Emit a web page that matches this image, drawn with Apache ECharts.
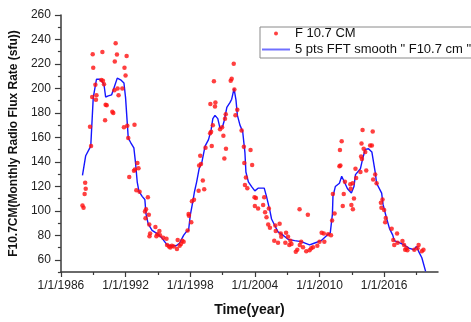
<!DOCTYPE html>
<html>
<head>
<meta charset="utf-8">
<script src="https://cdn.jsdelivr.net/npm/echarts@6/dist/echarts.min.js"></script>
<style>
  html, body { margin: 0; padding: 0; background: #fff; }
  #chart { width: 471px; height: 322px; }
</style>
</head>
<body>
<div id="chart"></div>
<script>
// Monthly F10.7 cm solar radio flux samples (decimal year, sfu)
const fluxYears = [
  1988.0, 1988.1, 1988.2, 1988.25, 1988.3, 1988.7, 1988.8, 1988.9, 1988.95, 1989.0,
  1989.2, 1989.25, 1989.3, 1989.75, 1989.85, 1989.9, 1990.0, 1990.1, 1990.15, 1990.25,
  1990.77, 1990.86, 1990.96, 1991.0, 1991.08, 1991.2, 1991.26, 1991.35, 1991.7, 1991.85,
  1991.9, 1992.0, 1992.1, 1992.16, 1992.25, 1992.34, 1992.78, 1992.83, 1992.87, 1993.0,
  1993.1, 1993.2, 1993.3, 1993.8, 1993.85, 1993.9, 1994.07, 1994.16, 1994.2, 1994.22,
  1994.28, 1994.77, 1994.86, 1994.95, 1995.14, 1995.2, 1995.5, 1995.8, 1995.85, 1996.03,
  1996.15, 1996.3, 1996.47, 1996.77, 1996.84, 1997.02, 1997.14, 1997.26, 1997.39, 1997.76,
  1997.85, 1997.88, 1998.1, 1998.16, 1998.35, 1998.78, 1998.83, 1998.93, 1999.0, 1999.17,
  1999.3, 1999.42, 1999.85, 1999.87, 1999.94, 2000.0, 2000.1, 2000.2, 2000.3, 2000.34,
  2000.77, 2000.96, 2001.08, 2001.17, 2001.23, 2001.3, 2001.32, 2001.76, 2001.85, 2002.04,
  2002.1, 2002.2, 2002.37, 2002.77, 2002.98, 2003.02, 2003.08, 2003.17, 2003.3, 2003.6,
  2003.75, 2003.97, 2004.0, 2004.1, 2004.3, 2004.77, 2004.87, 2004.95, 2005.08, 2005.24,
  2005.3, 2005.4, 2005.8, 2005.9, 2005.94, 2006.15, 2006.3, 2006.4, 2006.45, 2006.83,
  2006.9, 2007.08, 2007.2, 2007.3, 2007.4, 2007.8, 2007.94, 2008.15, 2008.17, 2008.3,
  2008.47, 2008.77, 2008.92, 2009.08, 2009.23, 2009.4, 2009.8, 2010.0, 2010.2, 2010.4,
  2010.45, 2010.8, 2011.07, 2011.17, 2011.24, 2011.4, 2011.85, 2011.9, 2011.94, 2012.06,
  2012.16, 2012.25, 2012.36, 2012.86, 2012.9, 2012.96, 2013.08, 2013.1, 2013.2, 2013.34,
  2013.4, 2013.8, 2013.86, 2013.9, 2013.94, 2014.0, 2014.1, 2014.25, 2014.34, 2014.7,
  2014.86, 2014.94, 2014.98, 2015.17, 2015.3, 2015.7, 2015.75, 2015.85, 2016.0, 2016.1,
  2016.15, 2016.7, 2016.85, 2016.94, 2017.2, 2017.25, 2017.7, 2017.85, 2017.95, 2018.07,
  2018.16, 2018.8, 2019.1, 2019.2, 2019.5, 2019.65
];
const fluxValues = [
  104.4, 102.6, 113.7, 123.0, 118.0, 168.7, 152.9, 193.0, 228.0, 216.9,
  203.0, 190.7, 194.4, 206.8, 229.8, 206.3, 203.4, 174.0, 186.7, 186.2,
  180.9, 180.0, 198.6, 222.0, 237.0, 227.7, 200.0, 194.4, 200.0, 168.2,
  216.9, 210.5, 226.4, 169.5, 159.4, 127.7, 132.8, 170.3, 133.8, 116.9,
  139.1, 134.8, 115.6, 99.4, 93.9, 101.3, 111.0, 96.8, 88.8, 79.3,
  81.4, 86.7, 79.3, 80.9, 83.6, 80.0, 78.0, 77.2, 72.1, 70.8,
  70.0, 71.4, 70.8, 68.7, 76.1, 71.4, 72.9, 75.6, 74.8, 84.0,
  97.3, 96.0, 90.7, 107.9, 109.0, 116.3, 137.0, 144.9, 138.3, 124.8,
  117.7, 151.5, 163.4, 187.2, 164.5, 152.9, 170.0, 205.8, 185.2, 188.6,
  166.6, 168.2, 161.3, 142.8, 175.3, 178.8, 150.7, 206.3, 207.9, 220.1,
  199.1, 178.0, 182.5, 165.6, 152.3, 139.1, 121.0, 127.2, 118.5, 149.7,
  137.5, 111.0, 103.9, 110.5, 101.8, 104.7, 111.0, 98.9, 94.7, 88.8,
  101.8, 86.2, 75.6, 88.0, 83.6, 74.0, 89.4, 81.4, 78.8, 74.0,
  82.0, 78.8, 72.1, 75.6, 72.9, 66.5, 68.2, 101.3, 72.1, 74.8,
  70.3, 66.9, 96.7, 67.7, 69.5, 70.3, 71.4, 74.8, 82.0, 81.4,
  74.8, 80.9, 80.1, 92.0, 113.7, 97.8, 136.4, 149.7, 137.0, 156.8,
  103.9, 113.7, 123.7, 121.7, 118.0, 104.7, 122.5, 101.3, 110.0, 134.4,
  126.9, 131.7, 144.4, 155.0, 142.3, 166.1, 150.7, 148.1, 133.0, 153.4,
  153.4, 164.8, 125.6, 129.6, 122.5, 106.6, 102.6, 109.2, 100.7, 90.7,
  94.1, 85.4, 76.1, 72.1, 81.4, 74.0, 75.3, 72.1, 68.2, 69.5,
  67.7, 68.2, 69.5, 72.1, 66.9, 68.2
];

// 5-point FFT smoothed curve
const smoothYears = [
  1988.0, 1988.3, 1988.77, 1989.0, 1989.3, 1989.55, 1989.8, 1990.0, 1990.15, 1990.4,
  1990.7, 1990.93, 1991.23, 1991.54, 1991.85, 1992.0, 1992.25, 1992.46, 1992.77, 1992.92,
  1993.08, 1993.24, 1993.54, 1993.79, 1993.9, 1994.1, 1994.46, 1994.93, 1995.4, 1995.85,
  1996.3, 1996.7, 1997.0, 1997.4, 1997.63, 1997.85, 1998.0, 1998.25, 1998.4, 1998.6,
  1998.83, 1999.08, 1999.38, 1999.7, 1999.94, 2000.1, 2000.3, 2000.56, 2000.77, 2001.0,
  2001.17, 2001.4, 2001.7, 2001.85, 2002.07, 2002.25, 2002.38, 2002.62, 2002.87, 2003.08,
  2003.17, 2003.4, 2003.7, 2004.0, 2004.3, 2004.87, 2005.08, 2005.4, 2005.55, 2005.85,
  2006.15, 2006.62, 2007.08, 2007.7, 2008.3, 2009.08, 2009.5, 2010.15, 2010.7, 2011.0,
  2011.2, 2011.25, 2011.47, 2011.85, 2012.06, 2012.3, 2012.6, 2012.96, 2013.2, 2013.34,
  2013.8, 2014.0, 2014.25, 2014.55, 2014.86, 2015.17, 2015.3, 2015.77, 2015.9, 2016.2,
  2016.5, 2016.8, 2016.94, 2017.4, 2017.85, 2018.3, 2018.77, 2019.0, 2019.2, 2019.5,
  2019.85
];
const smoothValues = [
  129.0, 145.0, 152.9, 192.5, 207.5, 207.6, 206.0, 203.0, 193.0, 193.9,
  194.7, 200.5, 208.4, 207.0, 204.4, 192.5, 159.4, 156.0, 151.5, 139.6,
  123.7, 115.8, 111.8, 109.2, 97.3, 89.4, 84.0, 81.4, 77.5, 72.1,
  71.4, 71.4, 73.5, 80.1, 82.8, 84.0, 96.0, 107.9, 115.8, 123.7,
  134.4, 139.6, 152.9, 158.2, 166.1, 175.3, 178.0, 175.3, 167.4, 168.7,
  174.0, 184.6, 188.6, 191.2, 199.9, 190.4, 178.0, 170.0, 164.8, 147.5,
  131.7, 123.7, 119.8, 116.3, 118.5, 118.5, 111.8, 99.9, 93.3, 88.0,
  82.8, 80.1, 76.7, 75.6, 74.8, 72.1, 73.5, 75.6, 80.1, 82.0,
  97.3, 111.8, 119.8, 122.5, 128.3, 123.7, 118.0, 114.5, 119.8, 129.6,
  134.4, 142.3, 150.2, 150.7, 148.1, 131.7, 122.5, 114.5, 105.2, 94.7,
  85.4, 80.1, 75.6, 74.0, 72.1, 69.5, 68.2, 70.9, 66.9, 61.6,
  50.5
];

// Axis tick positions
const xMajorTicks = [1986, 1992, 1998, 2004, 2010, 2016];
const xMinorTicks = [1989, 1995, 2001, 2007, 2013, 2019];
const yMajorTicks = [60, 80, 100, 120, 140, 160, 180, 200, 220, 240, 260];
const yMinorTicks = [50, 70, 90, 110, 130, 150, 170, 190, 210, 230, 250];

const FONT = 'Arial, "Liberation Sans", sans-serif';
const AXIS_COLOR = '#3a3a3a';

const zip = (xs, ys) => xs.map((x, i) => [x, ys[i]]);

const xBase = {
  type: 'value', min: 1986, max: 2021, position: 'bottom',
  splitLine: { show: false }
};
const yBase = {
  type: 'value', min: 50, max: 260, position: 'left',
  splitLine: { show: false }
};

const chart = echarts.init(document.getElementById('chart'), null, { renderer: 'canvas' });
chart.setOption({
  animation: false,
  backgroundColor: '#ffffff',
  grid: { left: 58, right: 33, top: 15, bottom: 42, containLabel: false },
  xAxis: [
    Object.assign({}, xBase, {
      axisLine: { lineStyle: { color: AXIS_COLOR, width: 1.5 } },
      axisTick: { customValues: xMajorTicks, length: 5, lineStyle: { color: AXIS_COLOR, width: 1.2 } },
      axisLabel: {
        customValues: xMajorTicks, margin: 8,
        color: '#222', fontFamily: FONT, fontSize: 12,
        formatter: v => '1/1/' + v
      },
      name: 'Time(year)', nameLocation: 'middle', nameGap: 31,
      nameTextStyle: { color: '#111', fontFamily: FONT, fontSize: 14, fontWeight: 'bold' }
    }),
    Object.assign({}, xBase, {
      axisLine: { show: false },
      axisTick: { customValues: xMinorTicks, length: 3, lineStyle: { color: AXIS_COLOR, width: 1.2 } },
      axisLabel: { show: false }
    })
  ],
  yAxis: [
    Object.assign({}, yBase, {
      axisLine: { show: true, lineStyle: { color: AXIS_COLOR, width: 1.5 } },
      axisTick: { show: true, customValues: yMajorTicks, length: 6, lineStyle: { color: AXIS_COLOR, width: 1.2 } },
      axisLabel: {
        customValues: yMajorTicks, margin: 10,
        color: '#222', fontFamily: FONT, fontSize: 12
      },
      name: 'F10.7CM(Monthly Radio Flux Rate (sfu))', nameLocation: 'middle', nameGap: 35,
      nameTextStyle: { color: '#111', fontFamily: FONT, fontSize: 12, fontWeight: 'bold' }
    }),
    Object.assign({}, yBase, {
      axisLine: { show: false },
      axisTick: { show: true, customValues: yMinorTicks, length: 3, lineStyle: { color: AXIS_COLOR, width: 1.2 } },
      axisLabel: { show: false }
    })
  ],
  legend: {
    left: 260, top: 27, orient: 'vertical',
    padding: [0, 14, 2, 1],
    itemWidth: 28, itemHeight: 4, itemGap: 3,
    borderColor: '#8a8a8a', borderWidth: 1,
    textStyle: { color: '#111', fontFamily: FONT, fontSize: 13 },
    data: [
      { name: 'F 10.7 CM', icon: 'circle' },
      {
        name: '5 pts FFT smooth " F10.7 cm "',
        lineStyle: { color: '#7070ff', width: 2 },
        itemStyle: { color: 'rgba(0,0,0,0)', borderWidth: 0, opacity: 0 }
      }
    ]
  },
  series: [
    {
      name: '5 pts FFT smooth " F10.7 cm "',
      type: 'line', xAxisIndex: 0, yAxisIndex: 0,
      data: zip(smoothYears, smoothValues),
      showSymbol: false, symbol: 'none', smooth: false,
      lineStyle: { color: '#1515ff', width: 1.4 },
      itemStyle: { color: '#1515ff' },
      z: 2
    },
    {
      name: 'F 10.7 CM',
      type: 'scatter', xAxisIndex: 0, yAxisIndex: 0,
      data: zip(fluxYears, fluxValues),
      symbol: 'circle', symbolSize: 4.5,
      itemStyle: { color: '#ff1010' },
      z: 3
    }
  ]
});
</script>
</body>
</html>
